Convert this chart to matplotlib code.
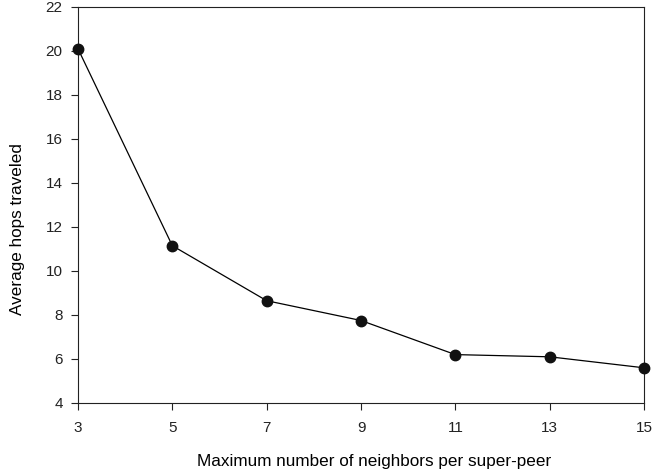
import matplotlib
matplotlib.use('Agg')
import matplotlib.pyplot as plt

plt.rcParams['font.family'] = ['Liberation Sans', 'DejaVu Sans']

neighbors = [3, 5, 7, 9, 11, 13, 15]
avg_hops = [20.1, 11.15, 8.65, 7.75, 6.2, 6.1, 5.6]

fig = plt.figure(figsize=(6.67, 4.71), dpi=100)
ax = fig.add_axes([78/667, 1 - 403/471, (644-78)/667, (403-7)/471])

ax.plot(neighbors, avg_hops, color='black', lw=0.9, marker='o', markersize=7.5,
        markerfacecolor='#111111', markeredgecolor='#111111', clip_on=False, zorder=3)

ax.set_xlim(3, 15)
ax.set_ylim(4, 22)
ax.set_xticks(neighbors)
ax.set_yticks(range(4, 23, 2))
ax.tick_params(direction='out', length=5, width=0.8, labelsize=11, colors='#222222', pad=6)
ax.tick_params(axis='x', pad=8)
for s in ax.spines.values():
    s.set_linewidth(0.8)
    s.set_color('#222222')

ax.set_xlabel('Maximum number of neighbors per super-peer', fontsize=12.3)
ax.set_ylabel('Average hops traveled', fontsize=12.3)
# labels in the original sit a bit off-centre
ax.xaxis.set_label_coords(0.524, -0.13)
ax.yaxis.set_label_coords(-0.094, 0.439)

fig.savefig('out.png', dpi=100)
